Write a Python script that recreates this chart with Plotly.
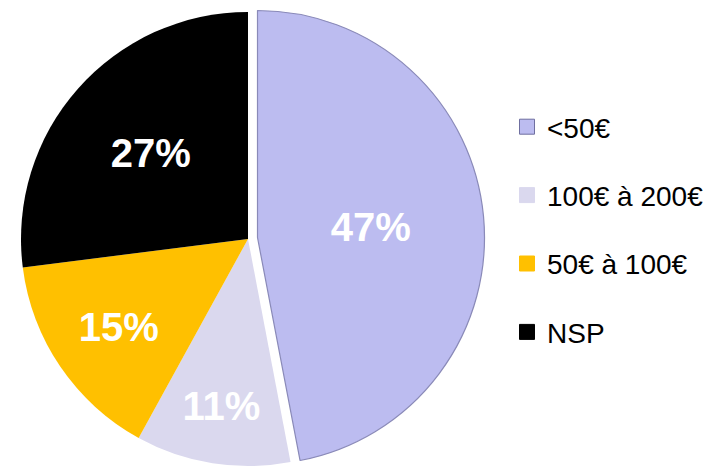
import plotly.graph_objects as go

labels = ["<50€", "100€ à 200€", "50€ à 100€", "NSP"]
values = [47, 11, 15, 27]
colors = ["#bcbcf0", "#dad8ee", "#ffc000", "#000000"]

W, H = 725, 468
cx, cy, r = 248, 239, 227          # pie centre (px from top-left) and radius
dx, dy = 9.5, -1.5                 # offset of the pulled slice

def dom(cx, cy):
    x0, x1 = (cx - r) / W, (cx + r) / W
    yb = H - cy
    y0, y1 = (yb - r) / H, (yb + r) / H
    return dict(x=[x0, x1], y=[y0, y1])

fig = go.Figure()

# base pie: all slices except the pulled one
fig.add_trace(go.Pie(
    labels=labels, values=values, sort=False, direction="clockwise", rotation=0,
    marker=dict(colors=["rgba(0,0,0,0)"] + colors[1:], line=dict(width=0)),
    texttemplate=[""] + ["%{percent:.0%}"] * 3,
    textposition="inside", insidetextorientation="horizontal",
    insidetextfont=dict(family="Liberation Sans", size=40, color="white", weight="bold"),
    domain=dom(cx, cy), showlegend=False, hoverinfo="label+percent",
))

# pulled slice drawn as a translated copy
fig.add_trace(go.Pie(
    labels=labels, values=values, sort=False, direction="clockwise", rotation=0,
    marker=dict(colors=[colors[0]] + ["rgba(0,0,0,0)"] * 3,
                line=dict(color=["#8a8ab8", "rgba(0,0,0,0)", "rgba(0,0,0,0)", "rgba(0,0,0,0)"], width=1.2)),
    texttemplate=["%{percent:.0%}", "", "", ""],
    textposition="inside", insidetextorientation="horizontal",
    insidetextfont=dict(family="Liberation Sans", size=40, color="white", weight="bold"),
    domain=dom(cx + dx, cy + dy), showlegend=False, hoverinfo="label+percent",
))

# legend entries
for i, (lab, col) in enumerate(zip(labels, colors)):
    fig.add_trace(go.Scatter(
        x=[None], y=[None], mode="markers", name=lab, legendgroup=f"g{i}",
        marker=dict(symbol="square", size=15, color=col,
                    line=dict(color="#6f6fa0" if i == 0 else col, width=1)),
    ))

fig.update_layout(
    width=W, height=H,
    margin=dict(l=0, r=0, t=0, b=0),
    paper_bgcolor="white", plot_bgcolor="white",
    xaxis=dict(visible=False), yaxis=dict(visible=False),
    legend=dict(
        x=507 / W, y=(H - 102) / H, xanchor="left", yanchor="top",
        font=dict(family="Liberation Sans", size=28, color="black"),
        tracegroupgap=29, itemclick=False, bgcolor="rgba(0,0,0,0)",
    ),
)

fig.write_html("out.html", config={"displayModeBar": False},
               post_script="document.body.style.margin='0';")
